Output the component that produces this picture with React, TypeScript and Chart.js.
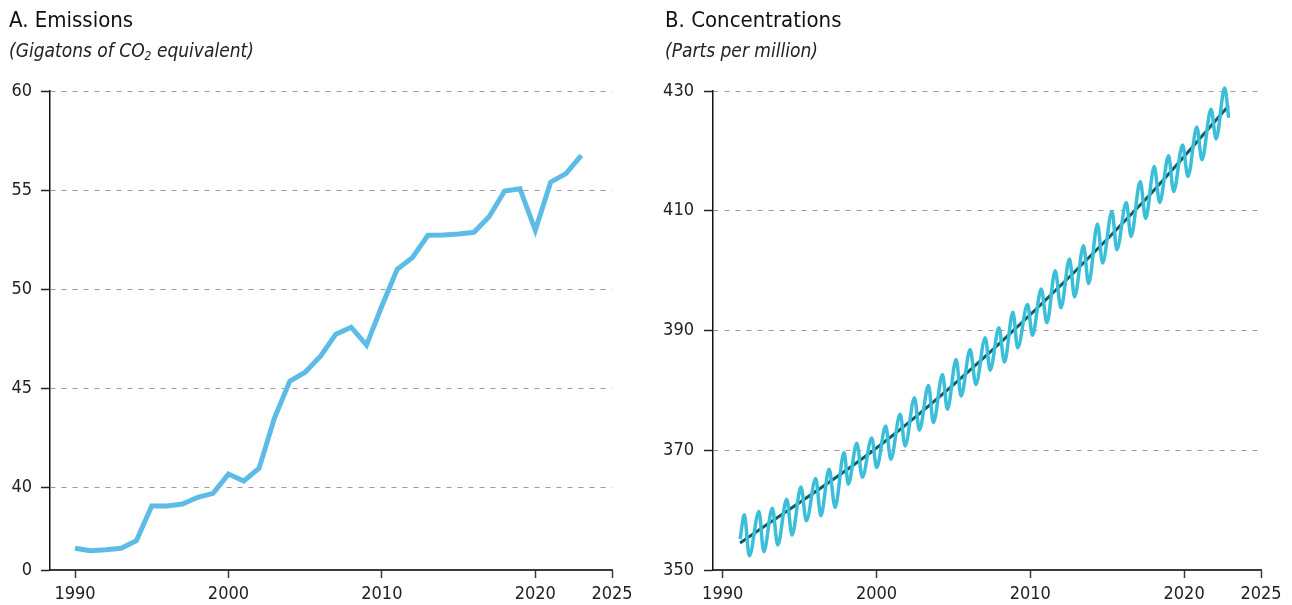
import React, { useEffect, useRef } from "react";
import { Chart, registerables } from "chart.js";

Chart.register(...registerables);

const FONT = "'Liberation Sans Narrow', 'DejaVu Sans Condensed', 'Arial Narrow', sans-serif";

// ---------- Panel A: emissions ----------
const emissionYears = [
  1990, 1991, 1992, 1993, 1994, 1995, 1996, 1997, 1998, 1999,
  2000, 2001, 2002, 2003, 2004, 2005, 2006, 2007, 2008, 2009,
  2010, 2011, 2012, 2013, 2014, 2015, 2016, 2017, 2018, 2019,
  2020, 2021, 2022, 2023,
];
const emissionValues = [
  36.93, 36.8, 36.85, 36.93, 37.31, 39.06, 39.06, 39.16, 39.5, 39.7,
  40.67, 40.32, 40.97, 43.5, 45.36, 45.81, 46.62, 47.73, 48.08, 47.18,
  49.15, 51.0, 51.6, 52.72, 52.74, 52.79, 52.87, 53.67, 54.95, 55.07,
  52.97, 55.4, 55.83, 56.75,
];
const emissionXTicks = [1990, 2000, 2010, 2020, 2025];
const emissionYTicks = [35.83, 40, 45, 50, 55, 60]; // bottom tick is the broken-axis "0"
const emissionYBreakLabel = "0";

// ---------- Panel B: concentrations ----------
const co2X = [
  1991.13, 1991.41, 1991.73, 1992.36, 1992.67, 1993.23, 1993.58, 1994.16, 1994.51,
  1995.09, 1995.44, 1996.05, 1996.38, 1996.92, 1997.31, 1997.89, 1998.17, 1998.72,
  1999.08, 1999.69, 2000.01, 2000.6, 2000.93, 2001.54, 2001.86, 2002.47, 2002.79,
  2003.38, 2003.7, 2004.29, 2004.61, 2005.18, 2005.5, 2006.09, 2006.46, 2007.07,
  2007.39, 2007.96, 2008.32, 2008.87, 2009.18, 2009.82, 2010.14, 2010.71, 2011.08,
  2011.62, 2011.99, 2012.55, 2012.88, 2013.46, 2013.79, 2014.37, 2014.7, 2015.31,
  2015.63, 2016.24, 2016.55, 2017.15, 2017.5, 2018.06, 2018.41, 2018.99, 2019.32,
  2019.9, 2020.25, 2020.83, 2021.16, 2021.75, 2022.08, 2022.64, 2022.9,
];
const co2Y = [
  355.17, 359.22, 352.38, 359.78, 353.05, 360.33, 354.17, 361.83, 355.83,
  363.88, 358.22, 365.28, 359.05, 366.83, 360.45, 369.62, 364.33, 371.17,
  365.5, 372.05, 367.12, 374.05, 368.5, 376.0, 370.72, 378.78, 373.38,
  380.83, 374.62, 382.67, 376.83, 385.17, 379.05, 386.83, 381.0, 388.78,
  383.38, 390.45, 384.72, 393.05, 387.12, 394.33, 389.22, 396.95, 391.28,
  400.0, 393.78, 401.95, 395.62, 404.17, 397.83, 407.78, 401.28, 409.88,
  403.5, 411.38, 405.72, 414.88, 408.72, 417.38, 411.38, 419.17, 413.22,
  421.0, 415.72, 424.0, 418.5, 426.95, 422.0, 430.5, 425.55,
];
const trendX = [1991.13, 2000.23, 2008.04, 2017.16, 2022.9];
const trendY = [354.5, 370.83, 387.95, 411.0, 427.55];
const co2XTicks = [1990, 2000, 2010, 2020, 2025];
const co2YTicks = [350, 370, 390, 410, 430];

const GRID = "#9c9c9c";
const TICKFONT = { family: FONT, size: 18 };

function baseXScale(min: number, ticks: number[]) {
  return {
    type: "linear" as const,
    min,
    max: 2025,
    afterBuildTicks: (s: any) => {
      s.ticks = ticks.map((v) => ({ value: v }));
    },
    afterFit: (s: any) => {
      s.height = 35;
    },
    grid: {
      drawOnChartArea: false,
      drawTicks: true,
      tickLength: 8,
      tickColor: "#3a3a3a",
      tickWidth: 1.5,
    },
    border: { color: "#3a3a3a", width: 2 },
    ticks: {
      font: TICKFONT,
      color: "#222",
      padding: 6,
      maxRotation: 0,
      autoSkip: false,
      callback: (v: any) => String(v),
    },
  };
}

function baseYScale(
  min: number,
  max: number,
  ticks: number[],
  width: number,
  hideBelow: number,
  label: (v: number) => string,
  pad: number
) {
  return {
    type: "linear" as const,
    min,
    max,
    afterBuildTicks: (s: any) => {
      s.ticks = ticks.map((v) => ({ value: v }));
    },
    afterFit: (s: any) => {
      s.width = width;
    },
    grid: {
      color: (ctx: any) =>
        ctx.tick && ctx.tick.value <= hideBelow ? "rgba(0,0,0,0)" : GRID,
      lineWidth: 1,
      tickLength: 9,
      tickColor: "#222",
      tickWidth: 1.5,
    },
    border: { color: "#111", width: 1.5, dash: [5, 6] },
    ticks: {
      font: TICKFONT,
      color: "#222",
      padding: pad,
      autoSkip: false,
      callback: (v: any) => label(Number(v)),
    },
  };
}

function EmissionsChart() {
  const ref = useRef<HTMLCanvasElement | null>(null);
  useEffect(() => {
    if (!ref.current) return;
    const chart = new Chart(ref.current, {
      type: "line",
      data: {
        datasets: [
          {
            data: emissionYears.map((x, i) => ({ x, y: emissionValues[i] })),
            borderColor: "#5dbce6",
            borderWidth: 5,
            pointRadius: 0,
            tension: 0,
            clip: 6,
          } as any,
        ],
      },
      options: {
        animation: false,
        responsive: false,
        maintainAspectRatio: false,
        layout: { padding: { top: 91, right: 28, left: 0, bottom: 0 } },
        plugins: { legend: { display: false }, tooltip: { enabled: false } },
        scales: {
          x: baseXScale(1988.37, emissionXTicks) as any,
          y: baseYScale(
            35.83,
            60,
            emissionYTicks,
            50,
            39,
            (v) => (v < 39 ? emissionYBreakLabel : String(v)),
            9
          ) as any,
        },
      },
    });
    return () => chart.destroy();
  }, []);
  return (
    <canvas
      ref={ref}
      width={640}
      height={605}
      style={{ position: "absolute", left: 0, top: 0, width: 640, height: 605 }}
    />
  );
}

function ConcentrationChart() {
  const ref = useRef<HTMLCanvasElement | null>(null);
  useEffect(() => {
    if (!ref.current) return;
    const chart = new Chart(ref.current, {
      type: "line",
      data: {
        datasets: [
          {
            data: co2X.map((x, i) => ({ x, y: co2Y[i] })),
            borderColor: "#3bbfd9",
            borderWidth: 3.5,
            pointRadius: 0,
            cubicInterpolationMode: "monotone",
            clip: 6,
          } as any,
          {
            data: trendX.map((x, i) => ({ x, y: trendY[i] })),
            borderColor: "#0b5e68",
            borderWidth: 3,
            pointRadius: 0,
            cubicInterpolationMode: "monotone",
            clip: 6,
          } as any,
        ],
      },
      options: {
        animation: false,
        responsive: false,
        maintainAspectRatio: false,
        layout: { padding: { top: 91, right: 31, left: 0, bottom: 0 } },
        plugins: { legend: { display: false }, tooltip: { enabled: false } },
        scales: {
          x: baseXScale(1989.37, co2XTicks) as any,
          y: baseYScale(350, 430, co2YTicks, 63, 350, (v) => String(v), 10) as any,
        },
      },
    });
    return () => chart.destroy();
  }, []);
  return (
    <canvas
      ref={ref}
      width={642}
      height={605}
      style={{ position: "absolute", left: 650, top: 0, width: 642, height: 605 }}
    />
  );
}

const titleStyle: React.CSSProperties = {
  position: "absolute",
  fontFamily: FONT,
  fontSize: 22,
  lineHeight: "22px",
  color: "#111",
  whiteSpace: "nowrap",
};
const subStyle: React.CSSProperties = {
  position: "absolute",
  fontFamily: FONT,
  fontSize: 19,
  lineHeight: "20px",
  fontStyle: "italic",
  color: "#222",
  whiteSpace: "nowrap",
};

export default function App() {
  return (
    <div
      style={{
        position: "fixed",
        left: 0,
        top: 0,
        width: 1292,
        height: 605,
        background: "#fff",
        overflow: "hidden",
      }}
    >
      <EmissionsChart />
      <ConcentrationChart />
      <div style={{ ...titleStyle, left: 9, top: 9 }}>A. Emissions</div>
      <div style={{ ...subStyle, left: 9, top: 40 }}>
        (Gigatons of CO<sub style={{ fontSize: 12, verticalAlign: "-3px", lineHeight: 0 }}>2</sub> equivalent)
      </div>
      <div style={{ ...titleStyle, left: 665, top: 9 }}>B. Concentrations</div>
      <div style={{ ...subStyle, left: 665, top: 40 }}>(Parts per million)</div>
    </div>
  );
}
